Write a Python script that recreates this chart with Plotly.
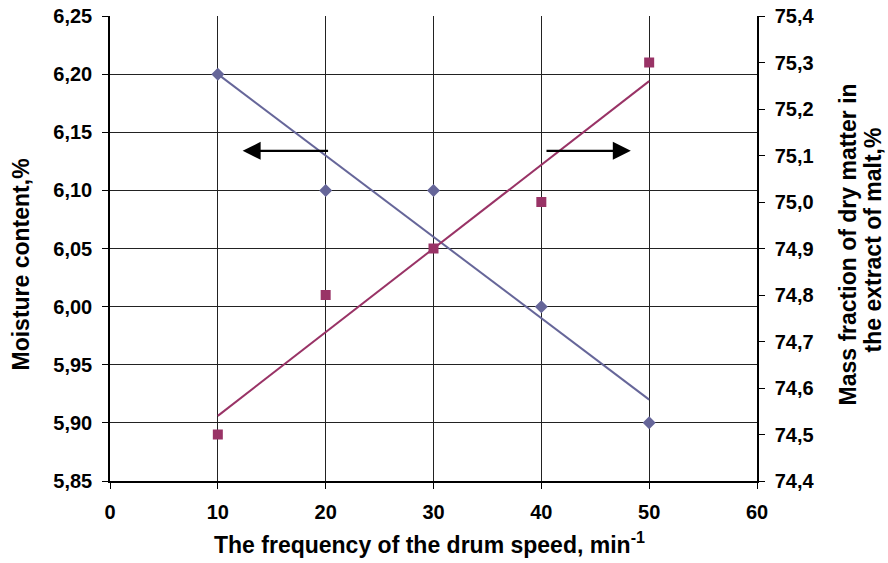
import numpy as np
import plotly.graph_objects as go

freq = [10, 20, 30, 40, 50]
moisture = [6.20, 6.10, 6.10, 6.00, 5.90]
dry_matter = [74.5, 74.8, 74.9, 75.0, 75.3]

left_ticks = [5.85, 5.90, 5.95, 6.00, 6.05, 6.10, 6.15, 6.20, 6.25]
right_ticks = [74.4, 74.5, 74.6, 74.7, 74.8, 74.9, 75.0, 75.1, 75.2, 75.3, 75.4]
x_ticks = [0, 10, 20, 30, 40, 50, 60]

BLUE = "#666699"
MAG = "#993366"
FONT = "Liberation Sans, Arial, sans-serif"

# linear trend lines fitted from the data
xf = np.array([freq[0], freq[-1]])
p1 = np.polyfit(freq, moisture, 1)
p2 = np.polyfit(freq, dry_matter, 1)

fig = go.Figure()
fig.add_trace(go.Scatter(x=xf, y=np.polyval(p1, xf), mode="lines",
                         line=dict(color=BLUE, width=2), showlegend=False))
fig.add_trace(go.Scatter(x=freq, y=moisture, mode="markers",
                         marker=dict(symbol="diamond", size=10, color=BLUE), showlegend=False))
fig.add_trace(go.Scatter(x=xf, y=np.polyval(p2, xf), mode="lines", yaxis="y2",
                         line=dict(color=MAG, width=2), showlegend=False))
fig.add_trace(go.Scatter(x=freq, y=dry_matter, mode="markers", yaxis="y2",
                         marker=dict(symbol="square", size=10, color=MAG), showlegend=False))

arrow_y = 6.134
fig.add_annotation(x=12.3, y=arrow_y, ax=20.5, ay=arrow_y, xref="x", yref="y",
                   axref="x", ayref="y", showarrow=True, arrowhead=2, arrowsize=1.5,
                   arrowwidth=2.4, arrowcolor="black", text=" ")
fig.add_annotation(x=48.3, y=arrow_y, ax=40.2, ay=arrow_y, xref="x", yref="y",
                   axref="x", ayref="y", showarrow=True, arrowhead=2, arrowsize=1.5,
                   arrowwidth=2.4, arrowcolor="black", text=" ")

tickfont = dict(family=FONT, size=20, color="black", weight="bold")
titlefont = dict(family=FONT, size=23, color="black", weight="bold")

# axis titles as annotations for precise placement
fig.add_annotation(x=0, y=0.5, xref="paper", yref="paper", xanchor="center", yanchor="middle",
                   xshift=-90, yshift=-16, textangle=-90, showarrow=False,
                   text="Moisture content,%", font=titlefont)
fig.add_annotation(x=1, y=0.5, xref="paper", yref="paper", xanchor="center", yanchor="middle",
                   xshift=90, yshift=4, textangle=-90, showarrow=False,
                   text="Mass fraction of dry matter in", font=titlefont)
fig.add_annotation(x=1, y=0.5, xref="paper", yref="paper", xanchor="center", yanchor="middle",
                   xshift=115, yshift=8, textangle=-90, showarrow=False,
                   text="the extract of malt,%", font=titlefont)
fig.add_annotation(x=0.5, y=0, xref="paper", yref="paper", xanchor="center", yanchor="middle",
                   xshift=-4, yshift=-62, showarrow=False,
                   text="The frequency of the drum speed, min<sup>-1</sup>", font=titlefont)

axis_common = dict(showline=True, linecolor="black", linewidth=1.5, ticks="outside", ticklen=6,
                   tickcolor="black", tickfont=tickfont, zeroline=False, automargin=False,
                   ticklabelstandoff=6, ticklabeloverflow="allow")

fig.update_layout(
    width=888, height=563,
    margin=dict(l=110, r=131, t=16, b=82, autoexpand=False),
    paper_bgcolor="white", plot_bgcolor="white",
    separators=", ",
    font=dict(family=FONT, color="black"),
    xaxis=dict(range=[0, 60], tickvals=x_ticks, showgrid=True, gridcolor="#222222", gridwidth=1,
               **axis_common),
    yaxis=dict(range=[5.85, 6.25], tickvals=left_ticks, tickformat=".2f", showgrid=True,
               gridcolor="#222222", gridwidth=1, **axis_common),
    yaxis2=dict(range=[74.4, 75.4], tickvals=right_ticks, tickformat=".1f", overlaying="y",
                side="right", showgrid=False, **axis_common),
)

fig.write_html("out.html", config={"displayModeBar": False},
               post_script="document.body.style.margin='0';document.body.style.overflow='hidden';")
